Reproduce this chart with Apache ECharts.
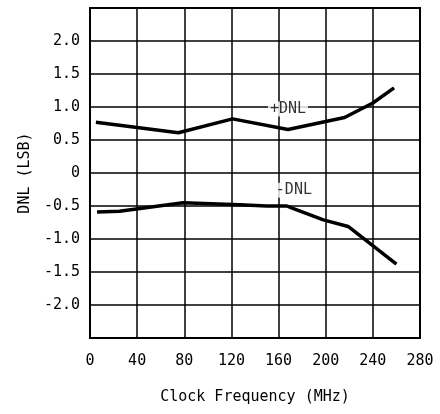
<!DOCTYPE html>
<html>
<head>
<meta charset="utf-8">
<title>DNL vs Clock Frequency</title>
<script src="https://cdn.jsdelivr.net/npm/echarts@6/dist/echarts.min.js"></script>
<style>
body{margin:0;background:#fff;}
#chart{width:440px;height:414px;}
</style>
</head>
<body>
<div id="chart"></div>
<script>

// +DNL curve
const posFreq=[5,75,121,168,216,240,258]
const posDnl=[0.77,0.61,0.82,0.66,0.84,1.06,1.29]

// -DNL curve
const negFreq=[6,25,79,127,150,167,171,198,219,260]
const negDnl=[-0.59,-0.58,-0.45,-0.48,-0.50,-0.50,-0.53,-0.71,-0.81,-1.38]

// curve labels
const labelText=["+DNL","-DNL"]
const labelPos=[[168,0.97],[173,-0.26]]

const font="DejaVu Sans Mono"

const chart=echarts.init(document.getElementById("chart"))

chart.setOption({
  animation:false,
  grid:{left:90,right:20,top:8,bottom:76,show:true,borderColor:"#000",borderWidth:2},
  xAxis:{
    type:"value",min:0,max:280,interval:40,
    name:"Clock Frequency (MHz)",nameLocation:"middle",nameGap:52,
    nameTextStyle:{fontFamily:font,fontSize:15,color:"#000"},
    axisLine:{show:false},axisTick:{show:false},
    axisLabel:{fontFamily:font,fontSize:15,color:"#000",margin:16},
    splitLine:{lineStyle:{color:"#000",width:1.5}}
  },
  yAxis:{
    type:"value",min:-2.5,max:2.5,interval:0.5,
    name:"DNL (LSB)",nameLocation:"middle",nameGap:54,
    nameTextStyle:{fontFamily:font,fontSize:15,color:"#000"},
    axisLine:{show:false},axisTick:{show:false},
    axisLabel:{fontFamily:font,fontSize:15,color:"#000",margin:10,
      formatter:v=>Math.abs(v)>2.4?"":(v===0?"0":v.toFixed(1))},
    splitLine:{lineStyle:{color:"#000",width:1.5}}
  },
  series:[
    {type:"line",data:posFreq.map((f,i)=>[f,posDnl[i]]),symbol:"none",
      lineStyle:{color:"#000",width:3.5}},
    {type:"line",data:negFreq.map((f,i)=>[f,negDnl[i]]),symbol:"none",
      lineStyle:{color:"#000",width:3.5}},
    {type:"scatter",symbolSize:0,data:labelPos,z:5,
      label:{show:true,position:"inside",formatter:p=>labelText[p.dataIndex],
        fontFamily:font,fontSize:15,color:"#000",backgroundColor:"#fff",padding:[0,2]}}
  ]
})

</script>
</body>
</html>
